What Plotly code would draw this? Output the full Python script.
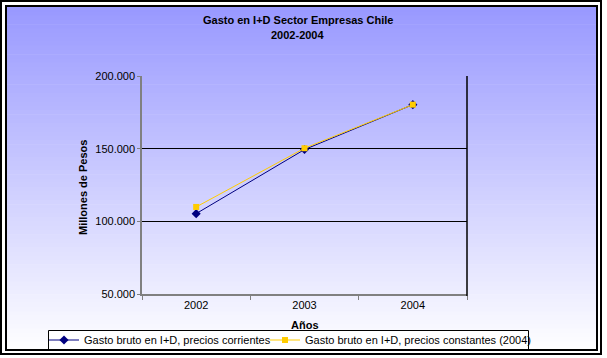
import plotly.graph_objects as go

# ---- data ----
years = ["2002", "2003", "2004"]
corrientes = [105300, 149400, 180300]
constantes = [109900, 150300, 180300]
ytick_vals = [50000, 100000, 150000, 200000]
ytick_text = ["50.000", "100.000", "150.000", "200.000"]
title_line1 = "Gasto en I+D Sector Empresas Chile"
title_line2 = "2002-2004"
name_corr = "Gasto bruto en I+D, precios corrientes"
name_const = "Gasto bruto en I+D, precios constantes (2004)"

W, H = 607, 358
L, R, T, B = 142, 467, 76, 294   # plot area in pixels


def px(x):
    return (x - L) / (R - L)


def py(y):
    return (B - y) / (B - T)


FONT = "Liberation Sans, Arial, sans-serif"

fig = go.Figure()
fig.add_trace(go.Scatter(
    x=years, y=corrientes, name=name_corr, mode="lines+markers",
    line=dict(color="#000080", width=1),
    marker=dict(symbol="diamond", size=7, color="#000080"),
    legend="legend",
))
fig.add_trace(go.Scatter(
    x=years, y=constantes, name=name_const, mode="lines+markers",
    line=dict(color="#FFCC00", width=1),
    marker=dict(symbol="square", size=6, color="#FFCC00"),
    legend="legend2",
))

shapes = []
# gradient background inside inner frame
top_y, bot_y = 7, 350
n = 80
for i in range(n):
    y0 = top_y + (bot_y - top_y) * i / n
    y1 = top_y + (bot_y - top_y) * (i + 1) / n + 0.6
    t = (i + 0.5) / n
    c = int(153 + (255 - 153) * t)
    shapes.append(dict(type="rect", xref="paper", yref="paper",
                       x0=px(7), x1=px(597), y0=py(y1), y1=py(y0),
                       fillcolor=f"rgb({c},{c},255)", line=dict(width=0),
                       layer="below"))
# legend box
shapes.append(dict(type="rect", xref="paper", yref="paper",
                   x0=px(48.5), x1=px(528.5), y0=py(350), y1=py(330.5),
                   fillcolor="white", line=dict(color="black", width=1),
                   layer="below"))
# frames
shapes.append(dict(type="rect", xref="paper", yref="paper",
                   x0=px(1), x1=px(601), y0=py(354), y1=py(1),
                   line=dict(color="black", width=2), layer="above"))
shapes.append(dict(type="rect", xref="paper", yref="paper",
                   x0=px(6), x1=px(597), y0=py(350), y1=py(6),
                   line=dict(color="black", width=2), layer="above"))
# right border of plot area
shapes.append(dict(type="line", xref="paper", yref="paper",
                   x0=1, x1=1, y0=py(296), y1=1,
                   line=dict(color="black", width=1.5), layer="above"))

annotations = [
    dict(text=f"<b>{title_line1}</b>", x=px(297.5), y=py(20), xref="paper", yref="paper",
         showarrow=False, xanchor="center", yanchor="middle",
         font=dict(family=FONT, size=11, color="black")),
    dict(text=f"<b>{title_line2}</b>", x=px(297.5), y=py(35), xref="paper", yref="paper",
         showarrow=False, xanchor="center", yanchor="middle",
         font=dict(family=FONT, size=11, color="black")),
    dict(text="<b>Años</b>", x=px(304.5), y=py(324.5), xref="paper", yref="paper",
         showarrow=False, xanchor="center", yanchor="middle",
         font=dict(family=FONT, size=11, color="black")),
    dict(text="<b>Millones de Pesos</b>", x=px(83), y=py(188), xref="paper", yref="paper",
         showarrow=False, xanchor="center", yanchor="middle", textangle=-90,
         font=dict(family=FONT, size=11, color="black")),
]

leg_common = dict(orientation="h", xanchor="left", yanchor="top",
                  bgcolor="rgba(0,0,0,0)", borderwidth=0,
                  font=dict(family=FONT, size=11, color="black"),
                  itemwidth=30)

fig.update_layout(
    width=W, height=H,
    margin=dict(l=L, r=W - R, t=T, b=H - B, pad=0, autoexpand=False),
    paper_bgcolor="white",
    plot_bgcolor="rgba(0,0,0,0)",
    font=dict(family=FONT, size=11, color="black"),
    shapes=shapes,
    annotations=annotations,
    showlegend=True,
    legend=dict(x=px(44), y=py(325.5), **leg_common),
    legend2=dict(x=px(265), y=py(325.5), **leg_common),
    xaxis=dict(type="category", range=[-0.5, 2.5], tickson="boundaries",
               ticks="outside", ticklen=4, tickcolor="#808080", tickwidth=1,
               showline=True, linecolor="#808080", linewidth=1.5,
               showgrid=False, zeroline=False, fixedrange=True,
               tickfont=dict(family=FONT, size=11, color="black")),
    yaxis=dict(range=[50000, 200000], tickvals=ytick_vals, ticktext=ytick_text,
               ticks="outside", ticklen=3, tickcolor="#808080", tickwidth=1,
               showline=True, linecolor="#808080", linewidth=1.5,
               showgrid=True, gridcolor="black", gridwidth=1.2,
               zeroline=False, fixedrange=True,
               tickfont=dict(family=FONT, size=11, color="black")),
)

fig.write_html(
    "out.html",
    config={"displayModeBar": False},
    post_script="document.body.style.margin='0';document.body.style.overflow='hidden';",
)
